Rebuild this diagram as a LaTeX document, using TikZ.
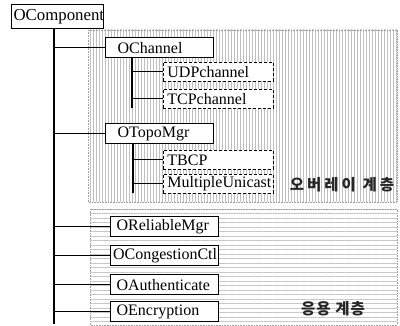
\documentclass[tikz,border=0pt]{standalone}
\usepackage{fontspec}
\setmainfont{Liberation Serif}
\newfontfamily\kor{Noto Sans CJK KR}
\usetikzlibrary{patterns.meta}
\begin{document}
\begin{tikzpicture}[x=1pt,y=-1pt,
  font=\fontsize{16}{18}\selectfont,
  region/.style={draw=gray!75, densely dotted, line width=0.6pt},
  mainbox/.style={draw=black, line width=1.2pt, fill=white, inner ysep=0pt,
    minimum height=20pt, align=left, anchor=north west},
  lvlbox/.style={mainbox, inner xsep=12pt, text width=84pt},
  appbox/.style={mainbox, inner xsep=6pt, text width=96pt},
  subbox/.style={draw=black, densely dashed, line width=0.8pt, fill=white, inner ysep=0pt,
    minimum height=19pt, align=left, anchor=north west, inner xsep=4pt, text width=102pt},
  conn/.style={draw=black, line width=1pt},
  subconn/.style={draw=black, line width=0.8pt},
  trunkline/.style={draw=black, line width=1.3pt},
  label/.style={font=\kor\bfseries\fontsize{15.5}{18}\selectfont, inner sep=0pt, text=black!85}]
\useasboundingbox (0,0) rectangle (400,326);
% regions
\path[pattern={Lines[angle=90,distance=3pt,line width=0.45pt]}, pattern color=gray!50]
  (88,30) rectangle (397,202);
\draw[region] (88,30) rectangle (397,202);
\path[pattern={Lines[angle=0,distance=4.5pt,line width=0.5pt]}, pattern color=gray!45]
  (90,209) rectangle (397,325);
\draw[region] (90,209) rectangle (397,325);
% coordinates
\coordinate (trunk) at (54,0);
\coordinate (trunkend) at (54,324);
\coordinate (st1) at (132,0);
\coordinate (st1end) at (132,108);
\coordinate (st2) at (133,0);
\coordinate (st2end) at (133,193);
% nodes
\node[mainbox, inner xsep=2pt, text width=88pt, minimum height=24pt, align=center,
  font=\fontsize{16.8}{18}\selectfont] (ocomp) at (11,4) {OComponent};
\node[lvlbox] (ochan) at (105,37) {OChannel};
\node[subbox] (udp) at (163,62) {UDPchannel};
\node[subbox] (tcp) at (163,89) {TCPchannel};
\node[lvlbox] (otopo) at (105,123) {OTopoMgr};
\node[subbox] (tbcp) at (163,150) {TBCP};
\node[subbox] (mu) at (163,174) {MultipleUnicast};
\node[appbox] (orel) at (110,216) {OReliableMgr};
\node[appbox, inner xsep=2.5pt, text width=103pt] (ocong) at (110,245) {OCongestionCtl};
\node[appbox] (oauth) at (110,274) {OAuthenticate};
\node[appbox] (oenc) at (110,301) {OEncryption};
\node[label] (ovl) at (342,185) {오\kern3pt 버\kern3pt 레\kern3pt 이\kern3pt\ 계\kern3pt 층};
\node[label] (app) at (333,309) {응\kern1pt 용\kern1pt\ 계\kern1pt 층};
% connectors
\draw[trunkline] (ocomp.south -| trunk) -- (trunkend);
\draw[conn] (ochan.west -| trunk) -- (ochan.west);
\draw[conn] (otopo.west -| trunk) -- (otopo.west);
\draw[conn] (orel.west -| trunk) -- (orel.west);
\draw[conn] (ocong.west -| trunk) -- (ocong.west);
\draw[conn] (oauth.west -| trunk) -- (oauth.west);
\draw[conn] (oenc.west -| trunk) -- (oenc.west);
\draw[trunkline] (ochan.south -| st1) -- (st1end);
\draw[subconn] (udp.west -| st1) -- (udp.west);
\draw[subconn] (tcp.west -| st1) -- (tcp.west);
\draw[trunkline] (otopo.south -| st2) -- (st2end);
\draw[subconn] (tbcp.west -| st2) -- (tbcp.west);
\draw[subconn] (mu.west -| st2) -- (mu.west);
\end{tikzpicture}
\end{document}
